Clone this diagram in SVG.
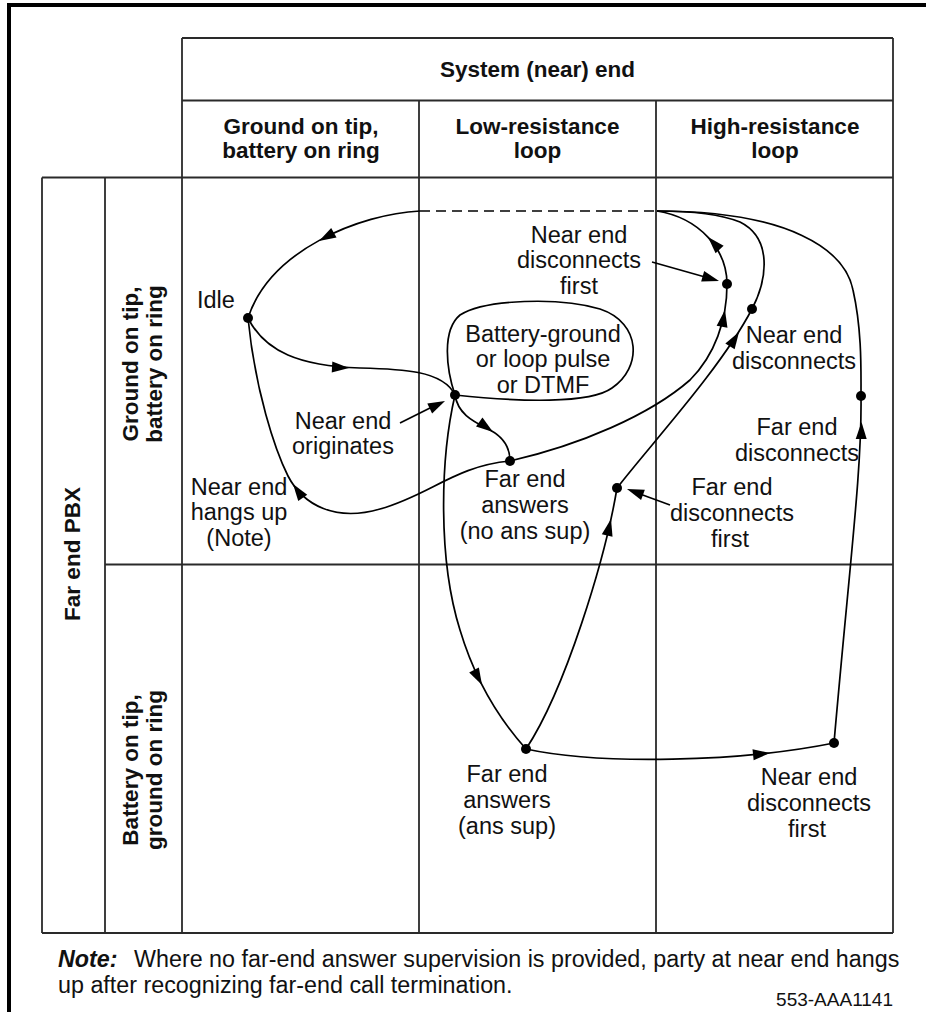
<svg xmlns="http://www.w3.org/2000/svg" xmlns:xlink="http://www.w3.org/1999/xlink" width="926" height="1036" viewBox="0 0 926 1036">
<style>
.frame{fill:#000}
.grid line{stroke:#2a2a2a;stroke-width:1.8;fill:none}
.conn path{fill:none;stroke:#000;stroke-width:1.7}
.conn .dash{stroke-dasharray:10 6}
.ptr line{stroke:#000;stroke-width:1.6}
.dot{fill:#000}
.ah{fill:#000}
text{font-family:"Liberation Sans",Arial,Helvetica,sans-serif;fill:#111}
.hdr{font-size:22.5px;font-weight:bold;text-anchor:middle}
.lbl{font-size:23.5px;text-anchor:middle}
.note{font-size:23.3px}
.id{font-size:19px;text-anchor:end}
</style>
<defs>
<path id="ah" d="M0,0 L-17,-5.5 L-17,5.5 Z"/>
</defs>
<rect width="926" height="1036" fill="#fff"/>
<g id="frame">
<rect class="frame" x="7" y="3" width="919" height="4"/>
<rect class="frame" x="7" y="3" width="4" height="1009"/>
</g>
<g id="table" class="grid">
<line x1="182" y1="38" x2="893" y2="38"/>
<line x1="182" y1="100.5" x2="893" y2="100.5"/>
<line x1="42" y1="177.5" x2="893" y2="177.5"/>
<line x1="105" y1="564.5" x2="893" y2="564.5"/>
<line x1="42" y1="933" x2="893" y2="933"/>
<line x1="42" y1="177.5" x2="42" y2="933"/>
<line x1="105" y1="177.5" x2="105" y2="933"/>
<line x1="182" y1="38" x2="182" y2="933"/>
<line x1="419" y1="100.5" x2="419" y2="933"/>
<line x1="656" y1="100.5" x2="656" y2="933"/>
<line x1="893" y1="38" x2="893" y2="933"/>
</g>
<g id="headers">
<text class="hdr" x="537.5" y="77">System (near) end</text>
<text class="hdr" x="301" y="134">Ground on tip,</text>
<text class="hdr" x="301" y="158">battery on ring</text>
<text class="hdr" x="537.5" y="134">Low-resistance</text>
<text class="hdr" x="537.5" y="158">loop</text>
<text class="hdr" x="775" y="134">High-resistance</text>
<text class="hdr" x="775" y="158">loop</text>
<text class="hdr" transform="translate(80,554) rotate(-90)">Far end PBX</text>
<text class="hdr" transform="translate(138,364) rotate(-90)">Ground on tip,</text>
<text class="hdr" transform="translate(162,364) rotate(-90)">battery on ring</text>
<text class="hdr" transform="translate(138,770) rotate(-90)">Battery on tip,</text>
<text class="hdr" transform="translate(162,770) rotate(-90)">ground on ring</text>
</g>
<g id="connectors" class="conn">
<path class="dash" d="M420,211 L657,211"/>
<path id="c-top-idle" d="M420,211 C360,214 270,250 248,318"/>
<path id="c-idle-orig" d="M248,318 C265,352 300,366 360,368 C400,369 443,370 455,395"/>
<path id="c-loop" d="M455,395 C446,368 442,330 460,315 C485,299 560,297 600,309 C642,323 642,368 612,388 C590,404 520,402 455,395"/>
<path id="c-orig-fanoans" d="M455,395 C458,415 475,422 490,430 C503,437 510,448 510,461"/>
<path id="c-fanoans-hangup" d="M510,461 C455,466 430,495 380,509 C335,522 303,505 288,476 C275,450 255,390 248,318"/>
<path id="c-fanoans-nedf" d="M510,461 C580,445 650,415 690,380 C715,355 727,320 727,284 C727,250 700,218 657,211"/>
<path id="c-orig-faans" d="M455,395 C440,460 438,560 460,630 C475,680 500,720 526,749"/>
<path id="c-faans-fedf" d="M526,749 C565,690 605,560 617,488"/>
<path id="c-fedf-ned" d="M617,488 C650,445 720,370 752,309 C768,278 772,238 740,222 C715,212 680,211 657,211"/>
<path id="c-faans-nedf2" d="M526,749 C600,765 740,762 834,743"/>
<path id="c-nedf2-fed" d="M834,743 C850,560 862,470 861,396"/>
<path id="c-fed-top" d="M861,396 C861,370 862,330 853,290 C845,250 790,211 657,211"/>
<use class="ah" xlink:href="#ah" href="#ah" transform="translate(319,241) rotate(151)"/>
<use class="ah" xlink:href="#ah" href="#ah" transform="translate(349,368) rotate(3)"/>
<use class="ah" xlink:href="#ah" href="#ah" transform="translate(493,432) rotate(36)"/>
<use class="ah" xlink:href="#ah" href="#ah" transform="translate(293,484) rotate(-125)"/>
<use class="ah" xlink:href="#ah" href="#ah" transform="translate(482,685) rotate(62)"/>
<use class="ah" xlink:href="#ah" href="#ah" transform="translate(611,519) rotate(-77)"/>
<use class="ah" xlink:href="#ah" href="#ah" transform="translate(725,310) rotate(-80)"/>
<use class="ah" xlink:href="#ah" href="#ah" transform="translate(708,237) rotate(-133)"/>
<use class="ah" xlink:href="#ah" href="#ah" transform="translate(739,332) rotate(-58)"/>
<use class="ah" xlink:href="#ah" href="#ah" transform="translate(861.5,422) rotate(-89)"/>
<use class="ah" xlink:href="#ah" href="#ah" transform="translate(770,753) rotate(-6)"/>
</g>
<g id="pointers" class="ptr">
<line x1="400" y1="423" x2="436" y2="405"/>
<use class="ah" xlink:href="#ah" href="#ah" transform="translate(445,401) rotate(-26)"/>
<line x1="652" y1="262" x2="705" y2="277"/>
<use class="ah" xlink:href="#ah" href="#ah" transform="translate(719,281) rotate(16)"/>
<line x1="670" y1="505" x2="640" y2="494"/>
<use class="ah" xlink:href="#ah" href="#ah" transform="translate(627,489) rotate(200)"/>
</g>
<g id="node-idle">
<circle class="dot" cx="248" cy="318" r="5"/>
<text class="lbl" x="197" y="308" style="text-anchor:start">Idle</text>
</g>
<g id="node-near-end-originates">
<circle class="dot" cx="455" cy="395" r="5"/>
<text class="lbl" x="343" y="429">Near end</text>
<text class="lbl" x="343" y="454">originates</text>
</g>
<g id="node-dialing-loop">
<text class="lbl" x="543" y="342">Battery-ground</text>
<text class="lbl" x="543" y="367">or loop pulse</text>
<text class="lbl" x="543" y="393">or DTMF</text>
</g>
<g id="node-far-end-answers-no-sup">
<circle class="dot" cx="510" cy="461" r="5"/>
<text class="lbl" x="525" y="487">Far end</text>
<text class="lbl" x="525" y="513">answers</text>
<text class="lbl" x="525" y="539">(no ans sup)</text>
</g>
<g id="node-near-end-hangs-up">
<text class="lbl" x="239" y="495">Near end</text>
<text class="lbl" x="239" y="520">hangs up</text>
<text class="lbl" x="239" y="546">(Note)</text>
</g>
<g id="node-near-end-disconnects-first-top">
<circle class="dot" cx="727" cy="284" r="5"/>
<text class="lbl" x="579" y="243">Near end</text>
<text class="lbl" x="579" y="268">disconnects</text>
<text class="lbl" x="579" y="294">first</text>
</g>
<g id="node-near-end-disconnects">
<circle class="dot" cx="752" cy="309" r="5"/>
<text class="lbl" x="794" y="343">Near end</text>
<text class="lbl" x="794" y="369">disconnects</text>
</g>
<g id="node-far-end-disconnects">
<circle class="dot" cx="861" cy="396" r="5"/>
<text class="lbl" x="797" y="435">Far end</text>
<text class="lbl" x="797" y="461">disconnects</text>
</g>
<g id="node-far-end-disconnects-first">
<circle class="dot" cx="617" cy="488" r="5"/>
<text class="lbl" x="732" y="495">Far end</text>
<text class="lbl" x="732" y="521">disconnects</text>
<text class="lbl" x="730" y="547">first</text>
</g>
<g id="node-far-end-answers-sup">
<circle class="dot" cx="526" cy="749" r="5"/>
<text class="lbl" x="507" y="782">Far end</text>
<text class="lbl" x="507" y="808">answers</text>
<text class="lbl" x="507" y="834">(ans sup)</text>
</g>
<g id="node-near-end-disconnects-first-bottom">
<circle class="dot" cx="834" cy="743" r="5"/>
<text class="lbl" x="809" y="785">Near end</text>
<text class="lbl" x="809" y="811">disconnects</text>
<text class="lbl" x="807" y="837">first</text>
</g>
<g id="note">
<text class="note" x="58" y="967"><tspan font-weight="bold" font-style="italic">Note:</tspan><tspan x="134">Where no far-end answer supervision is provided, party at near end hangs</tspan></text>
<text class="note" x="58" y="993">up after recognizing far-end call termination.</text>
<text class="id" x="893" y="1006">553-AAA1141</text>
</g>
</svg>
